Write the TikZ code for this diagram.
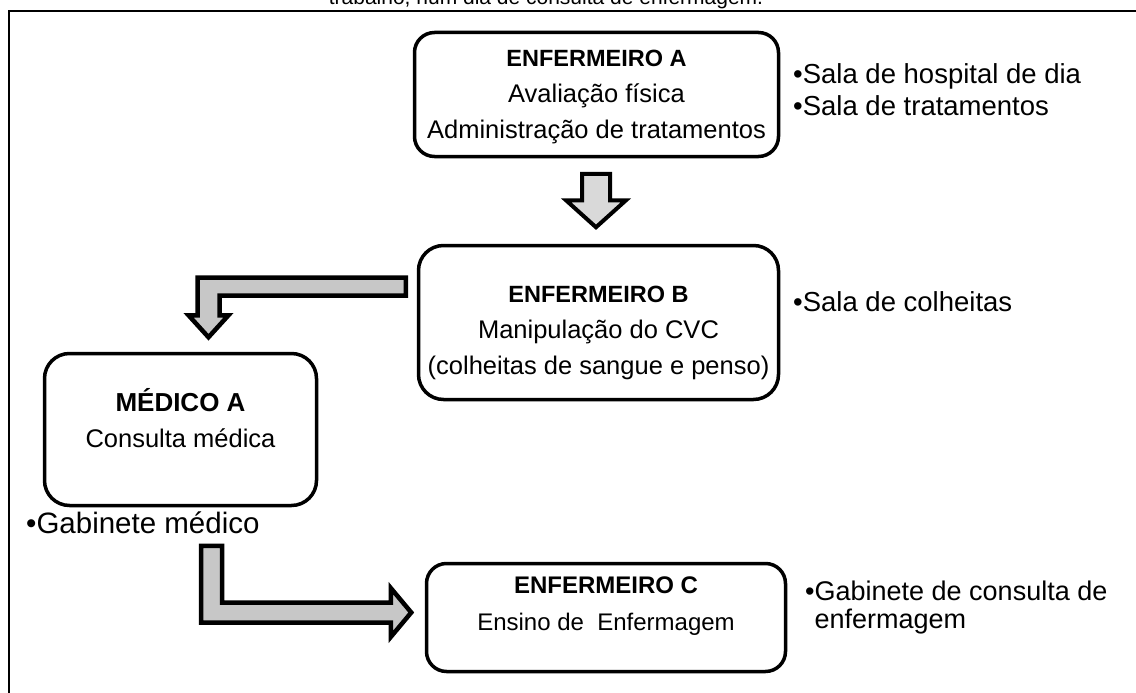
\documentclass[tikz,border=0pt]{standalone}
\usepackage{fontspec}
\setmainfont{Liberation Sans}
\usetikzlibrary{calc}
\begin{document}
\begin{tikzpicture}[x=1pt,y=-1pt,
  box/.style={draw=black,line width=3.5pt,rounded corners=#1,fill=white},
  box/.default=22pt,
  txt/.style={align=center,inner sep=0pt,anchor=base,font=\fontsize{25.5}{36}\selectfont},
  bul/.style={anchor=base west,inner sep=0pt,align=left,font=\fontsize{27.5}{32}\selectfont},
  barrow/.style={draw=black,line width=4.5pt,fill=black!22,line join=miter},
  darrow/.style={draw=black,line width=4pt,fill=black!15,line join=miter},
  frame/.style={draw=black,line width=2pt}]
\useasboundingbox (0,0) rectangle (1136,693);
% caption (cut at top)
\node[anchor=base,inner sep=0pt,font=\fontsize{21}{25}\selectfont] (cap) at (546,5) {trabalho, num dia de consulta de enfermagem.};
% outer frame
\draw[frame] (1140,11) -- (9,11) -- (9,700);
% boxes
\node[box=20pt,minimum width=364pt,minimum height=124pt] (A) at (596.5,94.5) {};
\node[box=25pt,minimum width=360pt,minimum height=154pt] (B) at (598.5,322.5) {};
\node[box=25pt,minimum width=272pt,minimum height=152pt] (M) at (180.5,429.5) {};
\node[box=20pt,minimum width=359pt,minimum height=108pt] (C) at (606,617.5) {};
% box texts (anchor = baseline of the last line)
\node[txt] (At) at ($(A.north)+(0,107.5)$) {{\fontsize{23.5}{36}\selectfont\bfseries ENFERMEIRO A}\\Avaliação física\\Administração de tratamentos};
\node[txt] (Bt) at ($(B.north)+(0,130.5)$) {{\fontsize{23.5}{36}\selectfont\bfseries ENFERMEIRO B}\\Manipulação do CVC\\(colheitas de sangue e penso)};
\node[txt] (Mt) at ($(M.north)+(0,95.5)$) {{\fontsize{26}{37}\selectfont\bfseries MÉDICO A}\\Consulta médica};
\node[txt,font=\fontsize{24}{37}\selectfont] (Ct) at ($(C.north)+(0,68.5)$) {{\bfseries ENFERMEIRO C}\\Ensino de\ \ Enfermagem};
% bullets
\node[bul] (bA) at (793,115) {•Sala de hospital de dia\\•Sala de tratamentos};
\node[bul] (bB) at (793,311) {•Sala de colheitas};
\node[bul,font=\fontsize{29.5}{32}\selectfont] (bM) at (26,533) {•Gabinete médico};
\node[bul,font=\fontsize{27}{28}\selectfont] (bC) at (805,628) {•Gabinete de consulta de\\\hphantom{•}enfermagem};
% block arrows
\coordinate (d1) at ($(A.south)+(-0.5,15.5)$);
\coordinate (d2) at ($(B.north)+(-2.5,-16.5)$);
\draw[darrow] ($(d1)+(-14,0)$) -- ++(28,0) |- ($(d2)+(14,-27)$) -- ++(16,0) -- (d2) -- ($(d2)+(-30,-27)$) -- ++(16,0) -- cycle;
\coordinate (s1) at ($(B.west)+(-11,-36)$);
\coordinate (t1) at ($(M.north)+(28,-14.5)$);
\draw[barrow] ($(s1)+(0,-9)$) -| ($(t1)+(-11,-22)$) -- ++(-9,0) -- (t1) -- ($(t1)+(20,-22)$) -- ++(-9,0) |- ($(s1)+(0,9)$) -- cycle;
\coordinate (s2) at ($(M.south)+(31,38.5)$);
\coordinate (t2) at ($(C.west)+(-13.5,-5)$);
\draw[barrow] ($(s2)+(-10.5,0)$) |- ($(t2)+(-20.5,10)$) -- ++(0,14.5) -- (t2) -- ($(t2)+(-20.5,-24.5)$) -- ++(0,14.5) -| ($(s2)+(10.5,0)$) -- cycle;
\end{tikzpicture}
\end{document}
